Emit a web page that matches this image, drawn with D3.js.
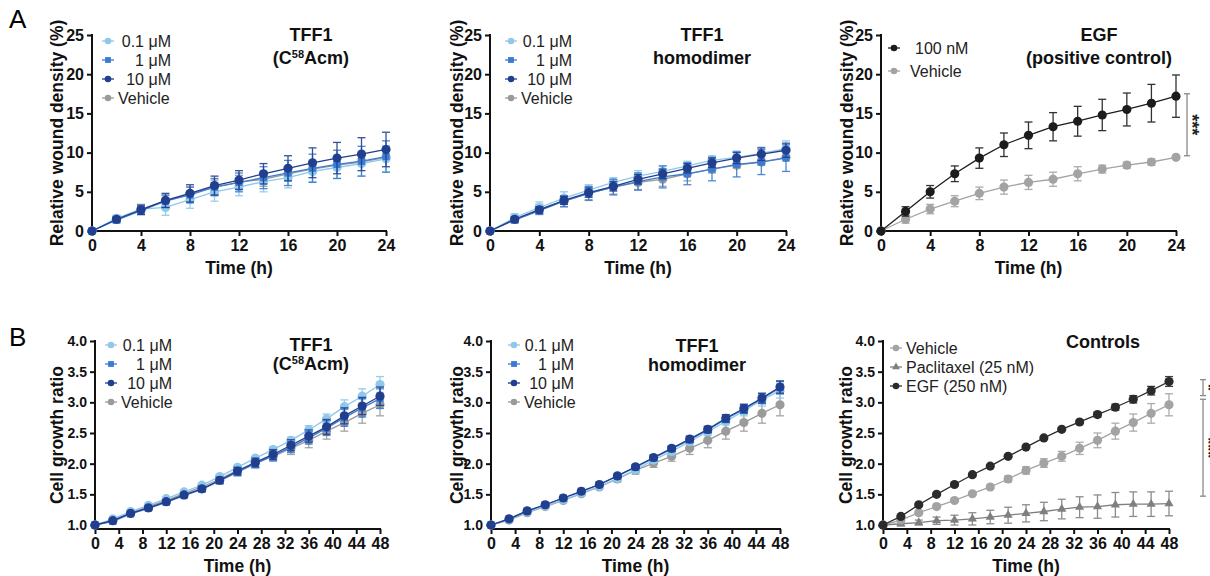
<!DOCTYPE html>
<html>
<head>
<meta charset="utf-8">
<script src="https://cdn.jsdelivr.net/npm/d3@7"></script>
<style>
  body { margin: 0; background: #fff; }
  svg { font-family: Arial, "Liberation Sans", sans-serif; }
</style>
</head>
<body>
<div id="app"></div>
<script>
// ---- data ----
const hoursA = [0, 2, 4, 6, 8, 10, 12, 14, 16, 18, 20, 22, 24];
const hoursB = [0, 3, 6, 9, 12, 15, 18, 21, 24, 27, 30, 33, 36, 39, 42, 45, 48];

const ticksA = [0, 4, 8, 12, 16, 20, 24];
const ticksB = [0, 4, 8, 12, 16, 20, 24, 28, 32, 36, 40, 44, 48];
const yTicksA = [0, 5, 10, 15, 20, 25];
const yTicksB = [1.0, 1.5, 2.0, 2.5, 3.0, 3.5, 4.0];

// wound density, TFF1 (C58Acm)
const a1Low = [0, 1.6, 2.8, 3.0, 4.0, 5.0, 5.6, 6.3, 6.8, 7.6, 8.1, 8.6, 9.2];
const a1LowErr = [0, 0.3, 0.5, 1.0, 1.1, 1.2, 1.1, 1.3, 1.3, 1.3, 1.4, 1.6, 1.7];
const a1Mid = [0, 1.4, 2.6, 3.8, 4.6, 5.6, 6.2, 6.8, 7.4, 8.0, 8.5, 8.9, 9.5];
const a1MidErr = [0, 0.3, 0.5, 0.8, 1.0, 1.1, 1.2, 1.4, 1.6, 1.8, 1.8, 1.9, 2.0];
const a1High = [0, 1.5, 2.7, 3.9, 4.8, 5.8, 6.5, 7.3, 8.0, 8.7, 9.3, 9.8, 10.4];
const a1HighErr = [0, 0.3, 0.6, 0.9, 1.1, 1.2, 1.2, 1.3, 1.6, 1.9, 2.0, 2.1, 2.2];

// wound density, TFF1 homodimer
const a2Low = [0, 1.7, 3.0, 4.2, 5.2, 6.2, 7.0, 7.6, 8.3, 9.0, 9.4, 9.9, 10.5];
const a2LowErr = [0, 0.5, 0.7, 0.8, 0.7, 0.6, 0.7, 0.7, 0.6, 0.6, 0.8, 0.8, 1.0];
const a2Mid = [0, 1.4, 2.6, 3.8, 4.8, 5.6, 6.3, 6.9, 7.3, 7.9, 8.5, 8.8, 9.3];
const a2MidErr = [0, 0.3, 0.5, 0.7, 0.9, 1.0, 1.1, 1.4, 1.4, 1.5, 1.6, 1.6, 1.7];
const a2High = [0, 1.5, 2.7, 3.9, 4.9, 5.7, 6.6, 7.3, 8.0, 8.7, 9.3, 9.8, 10.3];
const a2HighErr = [0, 0.3, 0.4, 0.5, 0.6, 0.6, 0.6, 0.6, 0.6, 0.6, 0.7, 0.8, 0.9];

// wound density, vehicle and EGF
const aVehicle = [0, 1.5, 2.8, 3.8, 4.8, 5.6, 6.2, 6.6, 7.3, 7.9, 8.4, 8.8, 9.4];
const aVehicleErr = [0, 0.5, 0.6, 0.7, 0.8, 0.9, 0.9, 0.9, 0.9, 0.5, 0.4, 0.4, 0.2];
const aEgf = [0, 2.5, 5.0, 7.3, 9.3, 11.0, 12.2, 13.3, 14.0, 14.8, 15.5, 16.3, 17.2];
const aEgfErr = [0, 0.6, 0.8, 1.0, 1.3, 1.5, 1.7, 1.8, 1.9, 2.0, 2.1, 2.4, 2.7];

// cell growth ratio, TFF1 (C58Acm)
const b1Low = [1.0, 1.10, 1.22, 1.32, 1.43, 1.54, 1.65, 1.79, 1.94, 2.09, 2.23, 2.38, 2.55, 2.73, 2.93, 3.10, 3.29];
const b1LowErr = [0, 0.01, 0.02, 0.02, 0.02, 0.02, 0.03, 0.03, 0.03, 0.03, 0.04, 0.05, 0.07, 0.08, 0.11, 0.12, 0.13];
const b1Mid = [1.0, 1.06, 1.18, 1.27, 1.37, 1.48, 1.58, 1.72, 1.86, 2.00, 2.13, 2.27, 2.42, 2.58, 2.75, 2.91, 3.06];
const b1MidErr = [0, 0.02, 0.02, 0.03, 0.03, 0.03, 0.04, 0.05, 0.06, 0.07, 0.08, 0.09, 0.10, 0.12, 0.14, 0.15, 0.16];
const b1High = [1.0, 1.07, 1.19, 1.28, 1.38, 1.49, 1.59, 1.73, 1.88, 2.02, 2.15, 2.30, 2.45, 2.60, 2.78, 2.94, 3.10];
const b1HighErr = [0, 0.02, 0.02, 0.03, 0.03, 0.03, 0.04, 0.05, 0.06, 0.07, 0.08, 0.09, 0.10, 0.12, 0.13, 0.14, 0.15];

// cell growth ratio, TFF1 homodimer
const b2Low = [1.0, 1.09, 1.21, 1.31, 1.41, 1.52, 1.63, 1.76, 1.90, 2.06, 2.20, 2.36, 2.52, 2.69, 2.86, 3.04, 3.19];
const b2LowErr = [0, 0.01, 0.02, 0.02, 0.02, 0.02, 0.02, 0.03, 0.04, 0.04, 0.05, 0.05, 0.06, 0.06, 0.08, 0.10, 0.12];
const b2Mid = [1.0, 1.10, 1.23, 1.33, 1.44, 1.55, 1.66, 1.80, 1.94, 2.09, 2.24, 2.39, 2.55, 2.73, 2.89, 3.06, 3.24];
const b2MidErr = [0, 0.01, 0.02, 0.02, 0.02, 0.02, 0.02, 0.03, 0.03, 0.04, 0.04, 0.05, 0.05, 0.06, 0.07, 0.08, 0.10];
const b2High = [1.0, 1.10, 1.23, 1.33, 1.44, 1.55, 1.66, 1.80, 1.95, 2.10, 2.25, 2.40, 2.56, 2.74, 2.90, 3.07, 3.25];
const b2HighErr = [0, 0.01, 0.02, 0.02, 0.02, 0.02, 0.02, 0.03, 0.03, 0.04, 0.04, 0.05, 0.05, 0.06, 0.07, 0.08, 0.10];

// cell growth ratio, vehicle and controls
const bVehicle = [1.0, 1.08, 1.20, 1.30, 1.40, 1.51, 1.62, 1.75, 1.89, 2.01, 2.12, 2.25, 2.38, 2.53, 2.67, 2.82, 2.96];
const bVehicleErr = [0, 0.01, 0.02, 0.02, 0.02, 0.02, 0.03, 0.05, 0.06, 0.07, 0.08, 0.10, 0.12, 0.13, 0.14, 0.16, 0.18];
const bPaclitaxel = [1.0, 1.02, 1.04, 1.07, 1.08, 1.10, 1.13, 1.16, 1.19, 1.22, 1.26, 1.29, 1.30, 1.33, 1.34, 1.34, 1.35];
const bPaclitaxelErr = [0, 0.03, 0.04, 0.06, 0.08, 0.10, 0.11, 0.13, 0.14, 0.15, 0.16, 0.17, 0.19, 0.20, 0.20, 0.20, 0.20];
const bEgf = [1.0, 1.14, 1.33, 1.50, 1.66, 1.82, 1.96, 2.12, 2.27, 2.42, 2.56, 2.68, 2.80, 2.92, 3.05, 3.19, 3.34];
const bEgfErr = [0, 0.02, 0.02, 0.02, 0.02, 0.02, 0.02, 0.02, 0.02, 0.02, 0.02, 0.03, 0.04, 0.05, 0.06, 0.07, 0.08];

const colLow = '#8fc8ea';
const colMid = '#3b7bd2';
const colHigh = '#213f8e';
const colVeh = '#9b9b9b';

const tffSeries = (low, lowE, mid, midE, high, highE, veh, vehE) => [
  { name: 'Vehicle', values: veh, err: vehE, color: colVeh, symbol: d3.symbolCircle },
  { name: '0.1 μM', values: low, err: lowE, color: colLow, symbol: d3.symbolCircle },
  { name: '1 μM', values: mid, err: midE, color: colMid, symbol: d3.symbolSquare },
  { name: '10 μM', values: high, err: highE, color: colHigh, symbol: d3.symbolCircle }
];
const tffLegend = ['0.1 μM', '1 μM', '10 μM', 'Vehicle'];

// ---- layout ----
const panels = [
  { left: 92, right: 386, top: 35, bottom: 231, xAxisY: 231, hours: hoursA, xTicks: ticksA, yDomain: [0, 25], yTicks: yTicksA,
    yLabel: 'Relative wound density (%)', yFmt: d3.format('d'), xTickFont: 16, yTickFont: 16, yLabelOff: 29,
    title: [[{ t: 'TFF1' }], [{ t: '(C' }, { t: '58', sup: true }, { t: 'Acm)' }]], titleX: 311, titleY: [41, 64],
    series: tffSeries(a1Low, a1LowErr, a1Mid, a1MidErr, a1High, a1HighErr, aVehicle, aVehicleErr),
    legend: tffLegend, legX: 108, legY: [41, 60, 79, 98], legEnd: 171 },
  { left: 490, right: 786, top: 35, bottom: 231, xAxisY: 231, hours: hoursA, xTicks: ticksA, yDomain: [0, 25], yTicks: yTicksA,
    yLabel: 'Relative wound density (%)', yFmt: d3.format('d'), xTickFont: 16, yTickFont: 16, yLabelOff: 27,
    title: [[{ t: 'TFF1' }], [{ t: 'homodimer' }]], titleX: 702, titleY: [41, 64],
    series: tffSeries(a2Low, a2LowErr, a2Mid, a2MidErr, a2High, a2HighErr, aVehicle, aVehicleErr),
    legend: tffLegend, legX: 511, legY: [41, 60, 79, 98], legEnd: 572 },
  { left: 881, right: 1176, top: 35, bottom: 231, xAxisY: 231, hours: hoursA, xTicks: ticksA, yDomain: [0, 25], yTicks: yTicksA,
    yLabel: 'Relative wound density (%)', yFmt: d3.format('d'), xTickFont: 16, yTickFont: 16, yLabelOff: 28,
    title: [[{ t: 'EGF' }], [{ t: '(positive control)' }]], titleX: 1099, titleY: [41, 64],
    series: [
      { name: 'Vehicle', values: aVehicle, err: aVehicleErr, color: '#a3a3a3', symbol: d3.symbolCircle },
      { name: '100 nM', values: aEgf, err: aEgfErr, color: '#1c1c1c', symbol: d3.symbolCircle }
    ],
    legend: ['100 nM', 'Vehicle'], legX: 894, legY: [48, 71], legStart: [915, 910],
    sig: [{ from: 9.6, to: 17.5, label: '***', x: 1187 }] },
  { left: 95, right: 380, top: 341, bottom: 525, xAxisY: 529, hours: hoursB, xTicks: ticksB, yDomain: [1, 4], yTicks: yTicksB,
    yLabel: 'Cell growth ratio', yFmt: d3.format('.1f'), xTickFont: 16, yTickFont: 14, yLabelOff: 32,
    title: [[{ t: 'TFF1' }], [{ t: '(C' }, { t: '58', sup: true }, { t: 'Acm)' }]], titleX: 311, titleY: [351, 370],
    series: tffSeries(b1Low, b1LowErr, b1Mid, b1MidErr, b1High, b1HighErr, bVehicle, bVehicleErr),
    legend: tffLegend, legX: 111, legY: [345, 364, 383, 402], legEnd: 172 },
  { left: 491, right: 780, top: 341, bottom: 525, xAxisY: 529, hours: hoursB, xTicks: ticksB, yDomain: [1, 4], yTicks: yTicksB,
    yLabel: 'Cell growth ratio', yFmt: d3.format('.1f'), xTickFont: 16, yTickFont: 14, yLabelOff: 28,
    title: [[{ t: 'TFF1' }], [{ t: 'homodimer' }]], titleX: 697, titleY: [352, 371],
    series: tffSeries(b2Low, b2LowErr, b2Mid, b2MidErr, b2High, b2HighErr, bVehicle, bVehicleErr),
    legend: tffLegend, legX: 514, legY: [345, 364, 383, 402], legEnd: 574 },
  { left: 883, right: 1169, top: 341, bottom: 525, xAxisY: 529, hours: hoursB, xTicks: ticksB, yDomain: [1, 4], yTicks: yTicksB,
    yLabel: 'Cell growth ratio', yFmt: d3.format('.1f'), xTickFont: 16, yTickFont: 14, yLabelOff: 31,
    title: [[{ t: 'Controls' }]], titleX: 1103, titleY: [348],
    series: [
      { name: 'Paclitaxel (25 nM)', values: bPaclitaxel, err: bPaclitaxelErr, color: '#7f7f7f', symbol: d3.symbolTriangle },
      { name: 'Vehicle', values: bVehicle, err: bVehicleErr, color: '#a3a3a3', symbol: d3.symbolCircle },
      { name: 'EGF (250 nM)', values: bEgf, err: bEgfErr, color: '#2b2b2b', symbol: d3.symbolCircle }
    ],
    legend: ['Vehicle', 'Paclitaxel (25 nM)', 'EGF (250 nM)'], legX: 896, legY: [348, 367, 386], legStart: [906, 906, 906],
    sig: [{ from: 3.11, to: 3.37, label: '*', x: 1203 }, { from: 1.47, to: 3.05, label: '***', x: 1203 }] }
];

const svg = d3.select('#app').append('svg')
  .attr('width', 1210)
  .attr('height', 576);

svg.append('rect').attr('width', 1210).attr('height', 576).attr('fill', '#fff');

svg.append('text').attr('x', 9).attr('y', 28).attr('font-size', 26).text('A');
svg.append('text').attr('x', 9).attr('y', 346).attr('font-size', 26).text('B');

function drawPanel(p) {
  const g = svg.append('g');
  const x = d3.scaleLinear().domain([p.hours[0], p.hours[p.hours.length - 1]]).range([p.left, p.right]);
  const y = d3.scaleLinear().domain(p.yDomain).range([p.bottom, p.top]);

  // axes
  const yAxis = g.append('g')
    .attr('transform', `translate(${p.left},0)`)
    .call(d3.axisLeft(y).tickValues(p.yTicks).tickFormat(p.yFmt).tickSize(5).tickPadding(3));
  yAxis.select('.domain').remove();
  yAxis.append('line')
    .attr('y1', p.xAxisY).attr('y2', p.top - 1)
    .attr('stroke', '#111').attr('stroke-width', 2);

  const xAxis = g.append('g')
    .attr('transform', `translate(0,${p.xAxisY})`)
    .call(d3.axisBottom(x).tickValues(p.xTicks).tickFormat(d3.format('d')).tickSize(5).tickPadding(4));
  xAxis.select('.domain').remove();
  xAxis.append('line')
    .attr('x1', p.left - 1).attr('x2', p.right + 1)
    .attr('stroke', '#111').attr('stroke-width', 2);

  [[yAxis, p.yTickFont], [xAxis, p.xTickFont]].forEach(([a, fs]) => {
    a.selectAll('.tick line').attr('stroke', '#111').attr('stroke-width', 2);
    a.selectAll('.tick text')
      .attr('font-size', fs)
      .attr('font-weight', 'bold')
      .attr('fill', '#111')
      .attr('font-family', 'Arial, "Liberation Sans", sans-serif');
  });

  // axis titles
  g.append('text')
    .attr('transform', `translate(${p.left - p.yLabelOff},${(p.top + p.xAxisY) / 2}) rotate(-90)`)
    .attr('text-anchor', 'middle')
    .attr('font-size', 17.5)
    .attr('font-weight', 'bold')
    .attr('fill', '#111')
    .text(p.yLabel);

  g.append('text')
    .attr('x', (p.left + p.right) / 2)
    .attr('y', p.xAxisY + 43)
    .attr('text-anchor', 'middle')
    .attr('font-size', 17.5)
    .attr('font-weight', 'bold')
    .attr('fill', '#111')
    .text('Time (h)');

  // panel title
  p.title.forEach((line, i) => {
    const t = g.append('text')
      .attr('x', p.titleX)
      .attr('y', p.titleY[i])
      .attr('text-anchor', 'middle')
      .attr('font-size', 18)
      .attr('font-weight', 'bold')
      .attr('fill', '#111');
    line.forEach((seg, j) => {
      const ts = t.append('tspan').text(seg.t);
      if (seg.sup) ts.attr('font-size', 11).attr('dy', -6);
      else if (j > 0 && line[j - 1].sup) ts.attr('dy', 6);
    });
  });

  // series
  const line = d3.line().x(d => x(d.h)).y(d => y(d.v));
  p.series.forEach(s => {
    const pts = s.values.map((v, i) => ({ h: p.hours[i], v, e: s.err[i] }));
    const sg = g.append('g');
    const eb = sg.selectAll('.err').data(pts.filter(d => d.e > 0)).enter().append('g')
      .attr('stroke', s.color).attr('stroke-width', 1.3).attr('opacity', 0.9);
    eb.append('line').attr('x1', d => x(d.h)).attr('x2', d => x(d.h))
      .attr('y1', d => y(d.v - d.e)).attr('y2', d => y(d.v + d.e));
    eb.append('line').attr('x1', d => x(d.h) - 4).attr('x2', d => x(d.h) + 4)
      .attr('y1', d => y(d.v - d.e)).attr('y2', d => y(d.v - d.e));
    eb.append('line').attr('x1', d => x(d.h) - 4).attr('x2', d => x(d.h) + 4)
      .attr('y1', d => y(d.v + d.e)).attr('y2', d => y(d.v + d.e));
    sg.append('path').datum(pts)
      .attr('d', line).attr('fill', 'none')
      .attr('stroke', s.color).attr('stroke-width', 1.3);
    const size = s.symbol === d3.symbolTriangle ? 36 : (s.symbol === d3.symbolSquare ? 52 : 66);
    sg.selectAll('.pt').data(pts).enter().append('path')
      .attr('transform', d => `translate(${x(d.h)},${y(d.v)})`)
      .attr('d', d3.symbol().type(s.symbol).size(size))
      .attr('fill', s.color);
  });

  // legend
  p.legend.forEach((name, i) => {
    const s = p.series.find(d => d.name === name);
    const ly = p.legY[i];
    g.append('line')
      .attr('x1', p.legX - 6).attr('x2', p.legX + 6)
      .attr('y1', ly).attr('y2', ly)
      .attr('stroke', s.color).attr('stroke-width', 1.3);
    g.append('path')
      .attr('transform', `translate(${p.legX},${ly})`)
      .attr('d', d3.symbol().type(s.symbol).size(s.symbol === d3.symbolTriangle ? 26 : 34))
      .attr('fill', s.color);
    const right = p.legEnd && name !== 'Vehicle';
    g.append('text')
      .attr('x', right ? p.legEnd : (p.legStart ? p.legStart[i] : p.legX + 10))
      .attr('y', ly)
      .attr('dy', '0.36em')
      .attr('text-anchor', right ? 'end' : 'start')
      .attr('font-size', 16)
      .attr('fill', '#222')
      .text(name);
  });

  // significance brackets
  (p.sig || []).forEach(b => {
    const sg = g.append('g').attr('stroke', '#8a8a8a').attr('stroke-width', 1.3);
    sg.append('line').attr('x1', b.x).attr('x2', b.x).attr('y1', y(b.from)).attr('y2', y(b.to));
    sg.append('line').attr('x1', b.x - 3).attr('x2', b.x + 3).attr('y1', y(b.from)).attr('y2', y(b.from));
    sg.append('line').attr('x1', b.x - 3).attr('x2', b.x + 3).attr('y1', y(b.to)).attr('y2', y(b.to));
    g.append('text')
      .attr('transform', `translate(${b.x - 1},${y((b.from + b.to) / 2)}) rotate(90)`)
      .attr('text-anchor', 'middle')
      .attr('font-size', 18)
      .attr('font-weight', 'bold')
      .attr('fill', '#222')
      .text(b.label);
  });
}

panels.forEach(drawPanel);
</script>
</body>
</html>
